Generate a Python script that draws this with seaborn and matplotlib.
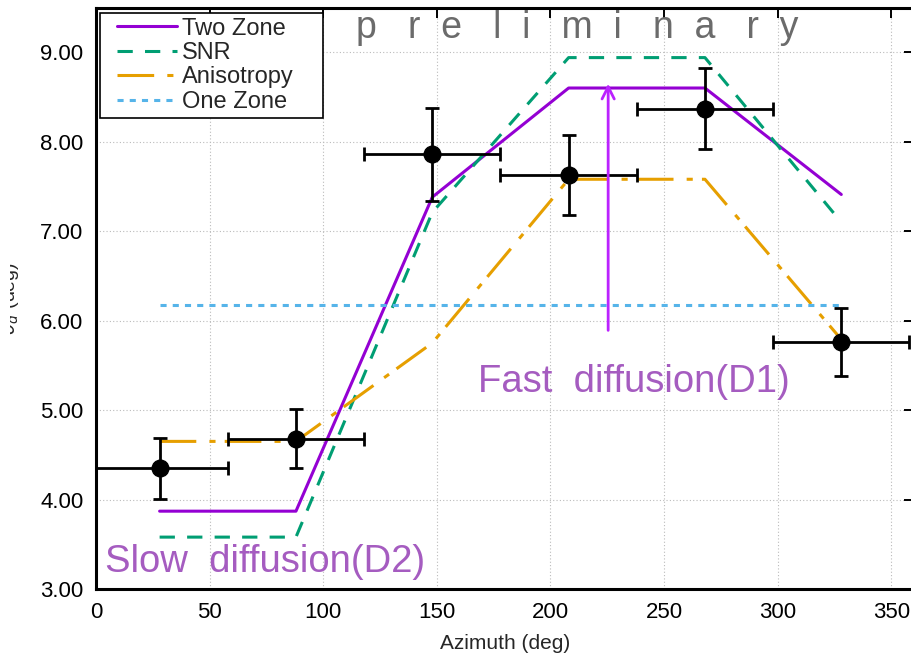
import matplotlib
matplotlib.use("Agg")
import matplotlib.pyplot as plt
from matplotlib.transforms import Bbox
from matplotlib.lines import Line2D
from matplotlib.legend_handler import HandlerLine2D
import seaborn as sns
import pandas as pd

# ---- data ----
azimuth = [28, 88, 148, 208, 268, 328]
two_zone = [3.87, 3.87, 7.38, 8.60, 8.60, 7.41]
snr = [3.58, 3.58, 7.21, 8.94, 8.94, 7.10]
anisotropy = [4.65, 4.65, 5.75, 7.58, 7.58, 5.79]
one_zone = [6.18, 6.18, 6.18, 6.18, 6.18, 6.18]

obs_y = [4.35, 4.68, 7.86, 7.63, 8.37, 5.76]
obs_yerr = [0.34, 0.33, 0.52, 0.45, 0.45, 0.38]
obs_xerr = [30, 30, 30, 30, 30, 30]

xticks = [0, 50, 100, 150, 200, 250, 300, 350]
yticks = [3.0, 4.0, 5.0, 6.0, 7.0, 8.0, 9.0]
model_names = ["Two Zone", "SNR", "Anisotropy", "One Zone"]

sns.set_theme(style="white")
plt.rcParams['font.family'] = ['Liberation Sans', 'DejaVu Sans']

fig = plt.figure(figsize=(9.12, 6.59), dpi=100)
ax = fig.add_axes([96/912, 70/659, 818/912, 581.5/659])

models = pd.DataFrame({
    "Azimuth": azimuth * 4,
    "value": two_zone + snr + anisotropy + one_zone,
    "model": [m for m in model_names for _ in range(6)],
})
palette = {"Two Zone": "#9400d3", "SNR": "#009e73", "Anisotropy": "#e69f00", "One Zone": "#56b4e9"}
styles = {"Two Zone": None, "SNR": (5, 4), "Anisotropy": (12, 4.3, 2, 3), "One Zone": (2, 2)}
for name in model_names:
    d = models[models.model == name]
    sns.lineplot(data=d, x="Azimuth", y="value", color=palette[name], lw=2.2,
                 ax=ax, label=name, zorder=3)
for ln, name in zip(ax.get_lines(), model_names):
    if styles[name] is not None:
        ln.set_dashes(styles[name])

ax.errorbar(azimuth, obs_y, xerr=obs_xerr, yerr=obs_yerr, fmt='o', color='black',
            ms=12, elinewidth=2, capsize=5, capthick=2, zorder=4)

ax.set_xlim(0, 360)
ax.set_ylim(3.0, 9.5)
ax.set_xticks(xticks)
ax.set_yticks(yticks)
ax.set_yticklabels([f"{v:.2f}" for v in yticks])
ax.grid(True, ls=(0, (1, 2)), color='#bbbbbb', lw=0.8)
ax.tick_params(direction='in', length=7, width=1.4, top=True, right=True,
               labelsize=16, colors='black', pad=9)
for s in ax.spines.values():
    s.set_color('black')
    s.set_linewidth(2.2)

ax.set_xlabel("Azimuth (deg)", fontsize=15, labelpad=8)
ax.set_ylabel("")

ylab = fig.text(21/912, 1 - 298.5/659, r"$\theta_d$ (deg)", rotation=90,
                ha='right', va='center', fontsize=14)
ylab.set_clip_box(Bbox.from_extents(10, 0, 912, 659))
ylab.set_clip_on(True)

leg = ax.legend(loc='upper left', bbox_to_anchor=(0.0049, 0.5, 0.2726, 0.4905),
                mode='expand', borderaxespad=0,
                frameon=True, fancybox=False, edgecolor='black', framealpha=1,
                fontsize=17, handlelength=3.05, handletextpad=0.22,
                labelspacing=0.1, borderpad=0.2,
                handler_map={Line2D: HandlerLine2D(xpad=0.5)})
leg.get_frame().set_linewidth(1.2)

ax.text(0.588, 0.965, "p   r  e   l  i   m  i   n  a   r  y", transform=ax.transAxes,
        ha='center', va='center', fontsize=27, color='#6b6b6b', zorder=6)
ax.text(168, 5.2, "Fast  diffusion(D1)", fontsize=27.5, color='#a55cc0', zorder=6)
ax.text(4, 3.19, "Slow  diffusion(D2)", fontsize=27.5, color='#a55cc0', zorder=6)
ax.annotate("", xy=(225.4, 8.68), xytext=(225.4, 5.86),
            arrowprops=dict(arrowstyle='->', color='#bb22ff', lw=2, mutation_scale=22), zorder=6)

fig.savefig("out.png", dpi=100)
